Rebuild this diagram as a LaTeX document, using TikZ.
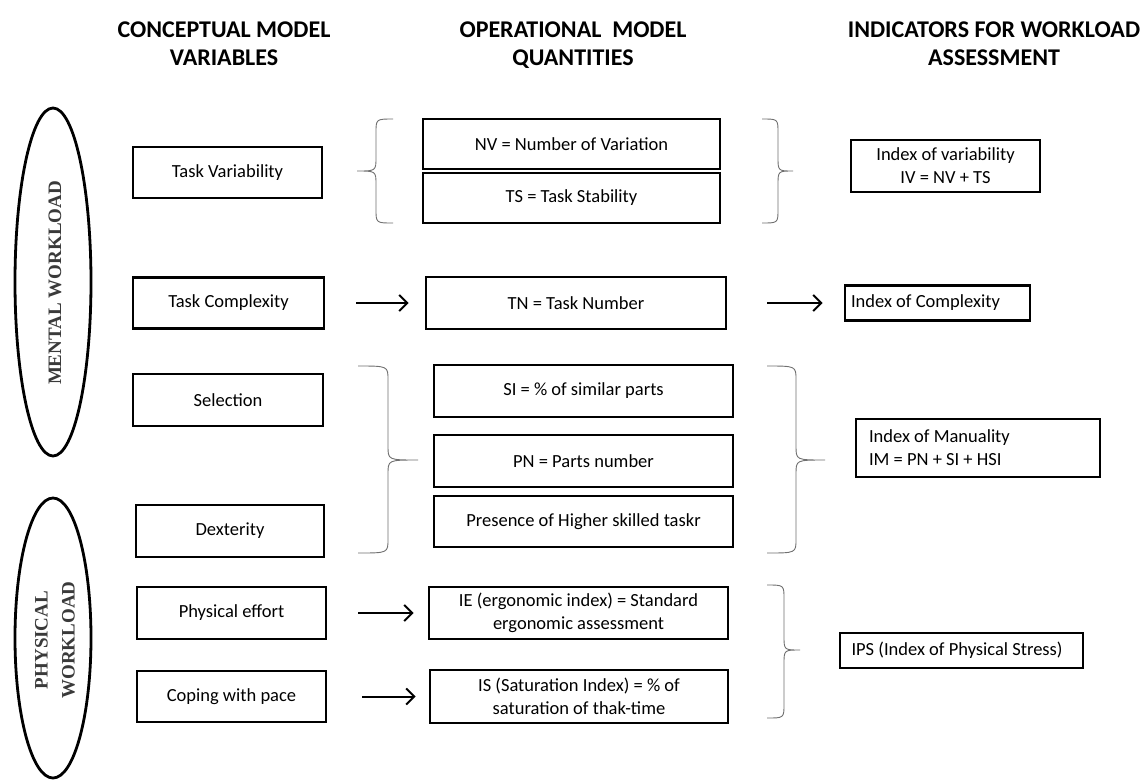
\documentclass[tikz,border=0pt]{standalone}
\usepackage{fontspec}
\setmainfont{Carlito}
\newfontfamily\ellfont{Liberation Serif}
\usetikzlibrary{arrows.meta}
\definecolor{elltext}{HTML}{3A3A3A}
\definecolor{bracecol}{HTML}{707070}
\tikzset{
  box/.style={draw=black, line width=2.8pt, rectangle, inner sep=0pt, align=center, font=\fontsize{18.5}{23}\selectfont},
  lbox/.style={box, align=flush left},
  head/.style={align=center, font=\bfseries\fontsize{24}{28}\selectfont},
  elltxt/.style={text=elltext, align=center, rotate=90, font=\ellfont\bfseries\fontsize{19}{27}\selectfont},
  arr/.style={draw=black, line width=2pt, -{Straight Barb[length=8pt,width=16pt,line width=2pt]}},
  bracestyle/.style={draw=bracecol, line width=0.9pt},
}
\newcommand\mybrace[6]{% arm x, spine x, tip x, top y, tip y, bottom y
  \draw[bracestyle] (#1,#4) .. controls (#2,#4) .. (#2,#4+14) -- (#2,#5-14) .. controls (#2,#5) .. (#3,#5)
    .. controls (#2,#5) .. (#2,#5+14) -- (#2,#6-14) .. controls (#2,#6) .. (#1,#6);}
\begin{document}
\begin{tikzpicture}[x=1pt,y=-1pt]
\useasboundingbox (0,0) rectangle (1147,780);
\fill[white] (0,0) rectangle (1147,780);
% headers
\node[head] (h1) at (224,45.5) {\strut CONCEPTUAL MODEL\\VARIABLES\strut};
\node[head] (h2) at (573,45.5) {\strut OPERATIONAL\ \ MODEL\\QUANTITIES\strut};
\node[head] (h3) at (994,45.5) {\strut INDICATORS FOR WORKLOAD\\ASSESSMENT\strut};
% ellipses
\draw[line width=2.8pt] (53,282) ellipse [x radius=38, y radius=174];
\node[elltxt] (mw) at (55,283) {MENTAL WORKLOAD};
\draw[line width=2.8pt] (53,638) ellipse [x radius=38, y radius=140];
\node[elltxt] (pw) at (55,640) {PHYSICAL\\WORKLOAD};
% left column
\node[box, minimum width=189pt, minimum height=51pt] (tv) at (227.5,172.5) {Task Variability};
\node[box, minimum width=191pt, minimum height=51pt] (tc) at (228.5,303) {Task Complexity};
\node[box, minimum width=190pt, minimum height=52pt] (sel) at (228,400) {Selection};
\node[box, minimum width=188pt, minimum height=52pt] (dex) at (230,531) {Dexterity};
\node[box, minimum width=189pt, minimum height=52pt] (pe) at (231.5,613) {Physical effort};
\node[box, minimum width=189pt, minimum height=51pt] (cp) at (231.5,696.5) {Coping with pace};
% middle column
\node[box, minimum width=297pt, minimum height=50pt] (nv) at (571.5,144) {NV = Number of Variation};
\node[box, minimum width=297pt, minimum height=50pt] (ts) at (571.5,198) {TS = Task Stability};
\node[box, minimum width=300pt, minimum height=52pt] (tn) at (576,303) {TN = Task Number};
\node[box, minimum width=299pt, minimum height=52pt] (si) at (583.5,391) {SI = \% of similar parts};
\node[box, minimum width=299pt, minimum height=52pt] (pn) at (583.5,461) {PN = Parts number};
\node[box, minimum width=299pt, minimum height=51pt] (hs) at (583.5,521.5) {Presence of Higher skilled taskr};
\node[box, minimum width=299pt, minimum height=52pt] (ie) at (578.5,613) {IE (ergonomic index) = Standard\\ergonomic assessment};
\node[box, minimum width=298pt, minimum height=53pt] (is) at (579,696.5) {IS (Saturation Index) = \% of\\saturation of thak-time};
% right column
\node[box, minimum width=189pt, minimum height=52pt] (iv) at (945.5,166) {Index of variability\\IV = NV + TS};
\node[lbox, minimum width=185pt, minimum height=35pt, text width=173pt] (ic) at (937.5,303) {Index of Complexity};
\node[lbox, minimum width=244pt, minimum height=58pt, text width=218pt] (im) at (978,448) {Index of Manuality\\IM = PN + SI + HSI};
\node[lbox, minimum width=243pt, minimum height=35pt, text width=220pt] (ips) at (961.5,650.5) {IPS (Index of Physical Stress)};
% arrows
\draw[arr, shorten <=31pt, shorten >=16pt] (tc) -- (tn);
\draw[arr, shorten <=40pt, shorten >=21pt] (tn) -- (ic);
\draw[arr, shorten <=31pt, shorten >=14pt] (pe) -- (ie);
\draw[arr, shorten <=35pt, shorten >=13pt] (cp) -- (is);
% braces
\mybrace{393}{376}{357}{119}{171}{223}
\mybrace{762}{778}{793}{119}{171}{223}
\mybrace{358}{388}{418}{366}{460}{553}
\mybrace{767}{796}{825}{366}{460}{553}
\mybrace{767}{784}{800}{585}{650}{718}
\end{tikzpicture}
\end{document}
